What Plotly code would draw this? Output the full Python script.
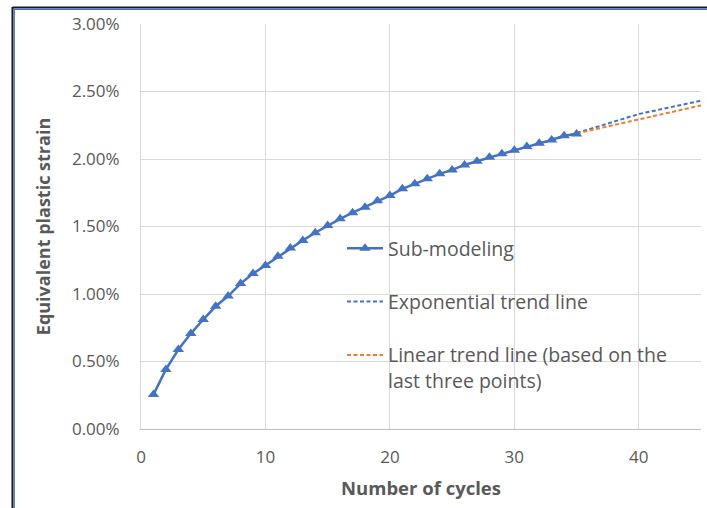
import plotly.graph_objects as go

# Data
cycles = list(range(1, 36))
strain_pct = [0.255, 0.441, 0.589, 0.707, 0.811, 0.909, 0.985, 1.077, 1.151, 1.212,
              1.279, 1.340, 1.397, 1.454, 1.508, 1.557, 1.602, 1.643, 1.690, 1.729,
              1.779, 1.816, 1.853, 1.890, 1.919, 1.956, 1.983, 2.013, 2.038, 2.064,
              2.092, 2.116, 2.141, 2.173, 2.185]

exp_x = [30, 35, 40, 45]
exp_y = [2.064, 2.192, 2.333, 2.432]

lin_x = [33, 45]
lin_y = [2.148, 2.397]

x_ticks = [0, 10, 20, 30, 40]
y_ticks = [0, 0.5, 1.0, 1.5, 2.0, 2.5, 3.0]
y_tick_labels = ["0.00%", "0.50%", "1.00%", "1.50%", "2.00%", "2.50%", "3.00%"]

BLUE = "#4472C4"
ORANGE = "#ED7D31"
GRAY = "#595959"
FONT = "Open Sans"

fig = go.Figure()
fig.add_trace(go.Scatter(
    x=exp_x, y=exp_y, mode="lines", name="Exponential trend line",
    line=dict(color=BLUE, width=2, dash="4px,2.5px"), legendrank=2, legendgroup="b"))
fig.add_trace(go.Scatter(
    x=lin_x, y=lin_y, mode="lines", name="Linear trend line (based on the<br>last three points)",
    line=dict(color=ORANGE, width=2, dash="4px,2.5px"), legendrank=3, legendgroup="c"))
fig.add_trace(go.Scatter(
    x=cycles, y=strain_pct, mode="lines+markers", name="Sub-modeling",
    line=dict(color=BLUE, width=2.5),
    marker=dict(symbol="triangle-up", size=10, color=BLUE),
    legendrank=1, legendgroup="a"))

L, R, T, B = 141, 6, 24, 79
W, H = 707, 508
pw, ph = W - L - R, H - T - B

def px(xp):
    return (xp - L) / pw

def py(yp):
    return (H - B - yp) / ph

shapes = [
    dict(type="line", xref="paper", yref="paper", x0=px(12.5), x1=px(712), y0=py(7.5), y1=py(7.5),
         line=dict(color="#1a1a1a", width=2)),
    dict(type="line", xref="paper", yref="paper", x0=px(14.5), x1=px(712), y0=py(9.3), y1=py(9.3),
         line=dict(color=BLUE, width=1.2)),
    dict(type="line", xref="paper", yref="paper", x0=px(12.5), x1=px(12.5), y0=py(7), y1=py(520),
         line=dict(color="#1a1a1a", width=2)),
    dict(type="line", xref="paper", yref="paper", x0=px(14.3), x1=px(14.3), y0=py(9), y1=py(520),
         line=dict(color=BLUE, width=1.2)),
]

fig.update_layout(
    width=W, height=H,
    margin=dict(l=L, r=R, t=T, b=B),
    paper_bgcolor="white", plot_bgcolor="white",
    font=dict(family=FONT, color=GRAY),
    shapes=shapes,
    showlegend=True,
    legend=dict(
        x=px(342), y=py(229), xanchor="left", yanchor="top",
        bgcolor="rgba(0,0,0,0)", borderwidth=0,
        font=dict(family=FONT, size=19.5, color=GRAY),
        tracegroupgap=25, valign="top", itemwidth=36,
    ),
    xaxis=dict(
        range=[0, 45], tickvals=x_ticks, ticktext=[str(v) for v in x_ticks],
        showgrid=True, gridcolor="#D9D9D9", gridwidth=1,
        showline=True, linecolor="#BFBFBF", linewidth=1,
        zeroline=False, ticks="outside", ticklen=13, tickcolor="rgba(0,0,0,0)",
        tickfont=dict(family=FONT, size=17, color=GRAY),
        title=dict(text="<b>Number of cycles</b>", font=dict(family=FONT, size=18.5, color=GRAY), standoff=14),
    ),
    yaxis=dict(
        range=[0, 3.0], tickvals=y_ticks, ticktext=y_tick_labels,
        showgrid=True, gridcolor="#D9D9D9", gridwidth=1,
        showline=True, linecolor="#D9D9D9", linewidth=1,
        zeroline=False, ticks="outside", ticklen=17, tickcolor="rgba(0,0,0,0)",
        tickfont=dict(family=FONT, size=17, color=GRAY),
        title=dict(text="<b>Equivalent plastic strain</b>", font=dict(family=FONT, size=18, color=GRAY), standoff=16),
    ),
)

fig.write_html("out.html")
